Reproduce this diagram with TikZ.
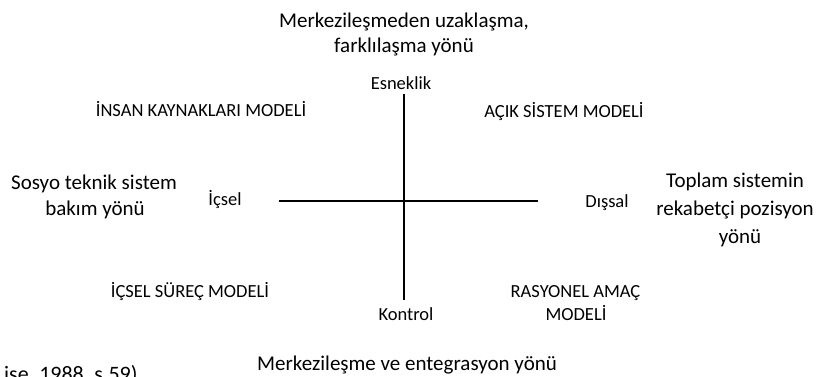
\documentclass[tikz,border=0pt]{standalone}
\usepackage{fontspec}
\setmainfont{Carlito}
\begin{document}
\begin{tikzpicture}[x=1pt,y=-1pt,
  big/.style={inner sep=0pt,anchor=base,font=\fontsize{21}{25}\selectfont},
  small/.style={inner sep=0pt,anchor=base,font=\fontsize{18.5}{22.5}\selectfont},
  axis/.style={line width=1.6pt,black}]
\useasboundingbox (0,0) rectangle (824,376);
% axes
\coordinate (top) at (404,94);
\coordinate (bot) at (404,300);
\coordinate (lft) at (279,201);
\coordinate (rgt) at (538,201);
\draw[axis] (top) -- (bot);
\draw[axis] (lft) -- (rgt);
% top direction
\node[big] (t1) at (404,27) {Merkezileşmeden uzaklaşma,};
\node[big] (t2) at (404,52) {farklılaşma yönü};
\node[small] (esn) at (401,89) {Esneklik};
% quadrants
\node[small] (ik) at (201,116) {İNSAN KAYNAKLARI MODELİ};
\node[small] (acik) at (564,117) {AÇIK SİSTEM MODELİ};
\node[small] (ics) at (190,297) {İÇSEL SÜREÇ MODELİ};
\node[small] (ras1) at (575.5,297) {RASYONEL AMAÇ};
\node[small] (ras2) at (576,320) {MODELİ};
% left direction
\node[big] (l1) at (94,189) {Sosyo teknik sistem};
\node[big] (l2) at (95,215) {bakım yönü};
\node[small] (icsel) at (225,205) {İçsel};
% right direction
\node[small] (dis) at (607,207) {Dışsal};
\node[big] (r1) at (735,187) {Toplam sistemin};
\node[big] (r2) at (735,215) {rekabetçi pozisyon};
\node[big] (r3) at (740,243) {yönü};
% bottom direction
\node[small] (kon) at (406,320) {Kontrol};
\node[big] (b1) at (407,370) {Merkezileşme ve entegrasyon yönü};
% citation, cut off by the lower edge as in the reference
\node[big,anchor=base west,font=\fontsize{22}{26}\selectfont] (cit) at (4,381) {ise, 1988, s.59)};
\end{tikzpicture}
\end{document}
